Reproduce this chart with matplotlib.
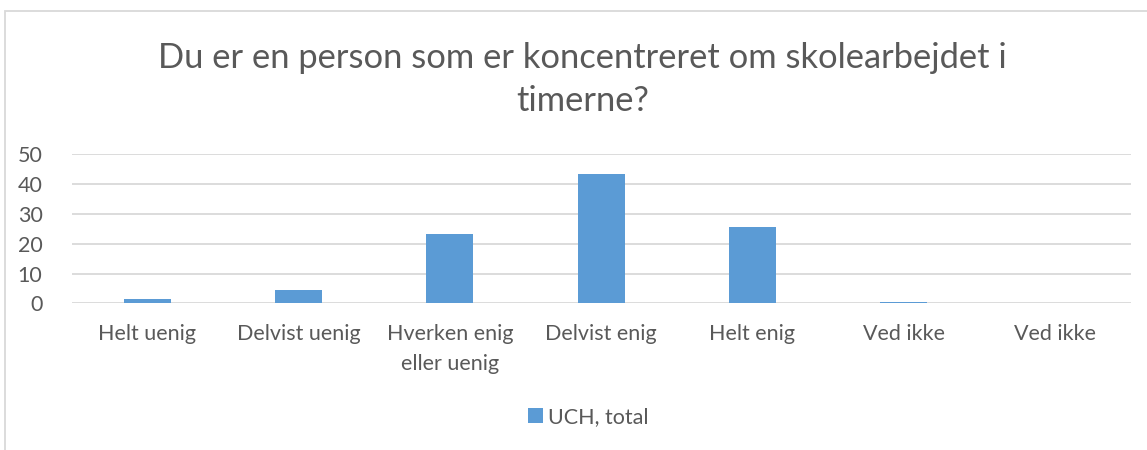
import matplotlib
matplotlib.use("Agg")
import matplotlib.pyplot as plt
from matplotlib.patches import Rectangle

categories = ["Helt uenig", "Delvist uenig", "Hverken enig\neller uenig", "Delvist enig",
              "Helt enig", "Ved ikke", "Ved ikke"]
values = [1.5, 4.6, 23.3, 43.4, 25.5, 0.4, 0.0]
series_name = "UCH, total"
title = "Du er en person som er koncentreret om skolearbejdet i\ntimerne?"
yticks = [0, 10, 20, 30, 40, 50]

plt.rcParams['font.family'] = ['Lato', 'DejaVu Sans']
text_color = "#595959"
bar_color = "#5b9bd5"
grid_color = "#d9d9d9"

W, H = 1147, 450
fig = plt.figure(figsize=(W / 100, H / 100), dpi=100)
fig.patch.set_facecolor("white")

# chart border
fig.add_artist(Rectangle((5 / W, -0.1), 1.2, (H - 10.5) / H + 0.1, transform=fig.transFigure,
                         fill=False, edgecolor="#d9d9d9", linewidth=1.3))

ax = fig.add_axes([71.7 / W, 1 - 303.3 / H, (1130.7 - 71.7) / W, (303.3 - 154.3) / H])
x = list(range(len(categories)))
ax.bar(x, values, width=0.31, color=bar_color, label=series_name, zorder=3)
ax.set_xlim(-0.5, len(categories) - 0.5)
ax.set_ylim(0, 50)
ax.set_yticks(yticks)
ax.set_xticks(x)
ax.set_xticklabels(categories, fontsize=15.5, color=text_color, linespacing=1.6)
ax.tick_params(axis='y', labelsize=15.5, labelcolor=text_color, length=0, pad=21)
ax.tick_params(axis='x', length=0, pad=15)
for s in ax.spines.values():
    s.set_visible(False)
ax.grid(axis='y', color=grid_color, linewidth=1.3, zorder=0)
ax.set_axisbelow(True)

fig.text(0.5 * (160 + 1005) / W, 1 - 79.5 / H, title, ha="center", va="center",
         fontsize=24.8, color=text_color, linespacing=1.42)

leg = fig.legend(loc="center", bbox_to_anchor=(588 / W, 1 - 417 / H), frameon=False,
                 fontsize=15.5, handlelength=0.7, handleheight=0.7, handletextpad=0.25)
for t in leg.get_texts():
    t.set_color(text_color)

fig.savefig("out.png", dpi=100, facecolor="white")
